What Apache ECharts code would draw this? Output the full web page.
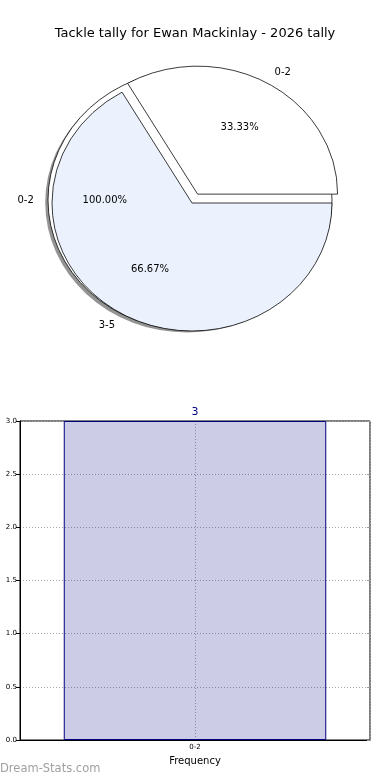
<!DOCTYPE html>
<html>
<head>
<meta charset="utf-8">
<script src="https://cdn.jsdelivr.net/npm/echarts@6/dist/echarts.min.js"></script>
<style>
  html, body { margin: 0; padding: 0; background: #fff; }
  #chart { width: 390px; height: 780px; }
</style>
</head>
<body>
<div id="chart"></div>
<script>
// values
const titleText = 'Tackle tally for Ewan Mackinlay - 2026 tally'
const allLabels = ['0-2']
const allValues = [3]
const pieLabels = ['0-2', '3-5']
const pieValues = [1, 2]
const barCategories = ['0-2']
const barValues = [3]

const font = 'DejaVu Sans'

// builds an elliptical matplotlib-like pie from a value list
function pieLayer(labels, values, cfg) {
  const total = values.reduce((a, b) => a + b, 0)
  const startOf = i => values.slice(0, i).reduce((a, b) => a + b, 0)
  const geom = (i) => {
    const a1 = startOf(i) / total * 360
    const a2 = (startOf(i) + values[i]) / total * 360
    const mid = (a1 + a2) / 2 * Math.PI / 180
    const ex = (cfg.explode[i] || 0)
    const cx = cfg.center[0] + ex * cfg.rx * Math.cos(mid)
    const cy = cfg.center[1] - ex * cfg.ry * Math.sin(mid)
    return { a1, a2, mid, cx, cy }
  }
  const sector = (g, extra) => ({
    type: 'sector',
    x: g.cx + (extra.dx || 0),
    y: g.cy + (extra.dy || 0),
    scaleY: cfg.ry / cfg.rx,
    shape: {
      cx: 0, cy: 0, r: cfg.rx, r0: 0,
      startAngle: -g.a2 * Math.PI / 180,
      endAngle: -g.a1 * Math.PI / 180,
      clockwise: true
    },
    style: extra.style
  })
  const data = values.map(v => [v])
  const out = []
  if (cfg.shadow) {
    out.push({
      type: 'custom', coordinateSystem: 'none', z: cfg.z, silent: true, data,
      renderItem: (params) => sector(geom(params.dataIndex), {
        dx: -2.8, dy: 2.6,
        style: { fill: 'rgba(60,60,60,0.55)', stroke: 'none' }
      })
    })
  }
  out.push({
    type: 'custom', coordinateSystem: 'none', z: cfg.z + 1, silent: true, data,
    renderItem: (params) => sector(geom(params.dataIndex), {
      style: {
        fill: cfg.colors[params.dataIndex], stroke: '#000',
        lineWidth: 0.8, strokeNoScale: true
      }
    })
  })
  out.push({
    type: 'custom', coordinateSystem: 'none', z: 10, silent: true, data,
    renderItem: (params) => {
      const i = params.dataIndex
      const g = geom(i)
      const c = Math.cos(g.mid), s = Math.sin(g.mid)
      const pct = (values[i] / total * 100).toFixed(2) + '%'
      return {
        type: 'group',
        children: [
          {
            type: 'text',
            x: g.cx + 1.1 * cfg.rx * c,
            y: g.cy - 1.1 * cfg.ry * s,
            style: {
              text: labels[i], fill: '#000', font: '10px ' + font,
              align: c > 0 ? 'left' : 'right', verticalAlign: 'middle'
            }
          },
          {
            type: 'text',
            x: g.cx + 0.6 * cfg.rx * c,
            y: g.cy - 0.6 * cfg.ry * s,
            style: {
              text: pct, fill: '#000', font: '10px ' + font,
              align: 'center', verticalAlign: 'middle'
            }
          }
        ]
      }
    }
  })
  return out
}

const chart = echarts.init(document.getElementById('chart'))

chart.setOption({
  animation: false,
  backgroundColor: '#fff',
  title: {
    text: titleText,
    left: 'center',
    top: 22,
    textStyle: { fontFamily: font, fontSize: 13, fontWeight: 'normal', color: '#000' }
  },
  graphic: [{
    type: 'text',
    left: 0,
    top: 763,
    style: { text: 'Dream-Stats.com', fill: '#a0a0a0', font: '11.5px ' + font }
  }],
  grid: {
    left: 20, right: 20, top: 421, bottom: 40,
    show: true, borderColor: '#000', borderWidth: 1
  },
  xAxis: [
    {
      type: 'category',
      data: barCategories,
      name: 'Frequency',
      nameLocation: 'middle',
      nameGap: 16,
      nameTextStyle: { fontFamily: font, fontSize: 10, color: '#000' },
      axisLine: { onZero: false, lineStyle: { color: '#000' } },
      axisTick: { show: false },
      axisLabel: { fontFamily: font, fontSize: 7, color: '#000', margin: 4 }
    },
    {
      type: 'value',
      min: -1, max: 1, interval: 1,
      position: 'bottom',
      axisLine: { show: false },
      axisTick: { show: false },
      axisLabel: { show: false },
      splitLine: { lineStyle: { color: '#a8a8a8', type: [1, 2] } }
    }
  ],
  yAxis: [
    {
      type: 'value',
      min: 0, max: 3, interval: 0.5,
      axisLine: { show: true, onZero: false, lineStyle: { color: '#000' } },
      axisTick: { show: true, length: 4, lineStyle: { color: '#000' } },
      axisLabel: {
        fontFamily: font, fontSize: 7, color: '#000', margin: 3,
        formatter: v => v.toFixed(1)
      },
      splitLine: { lineStyle: { color: '#a8a8a8', type: [1, 2] } }
    },
    {
      type: 'value',
      min: 0, max: 3, interval: 0.5,
      position: 'right',
      axisLine: { show: false, onZero: false },
      axisTick: { show: true, inside: true, length: 3, lineStyle: { color: '#999' } },
      axisLabel: { show: false },
      splitLine: { show: false }
    }
  ],
  series: [
    ...pieLayer(allLabels, allValues, {
      center: [190, 200], rx: 142, ry: 130, explode: [0], shadow: true,
      colors: ['#ffffff'], z: 1
    }),
    ...pieLayer(pieLabels, pieValues, {
      center: [192, 203], rx: 140, ry: 128, explode: [0.08, 0], shadow: false,
      colors: ['#ffffff', '#ebf1fd'], z: 3
    }),
    {
      type: 'bar',
      xAxisIndex: 0,
      yAxisIndex: 0,
      data: barValues,
      barWidth: '75%',
      itemStyle: { color: 'rgba(0,0,128,0.2)', borderColor: '#000080', borderWidth: 1 },
      label: {
        show: true, position: 'top', distance: 3,
        color: '#000080', fontFamily: font, fontSize: 11
      }
    }
  ]
})
</script>
</body>
</html>
